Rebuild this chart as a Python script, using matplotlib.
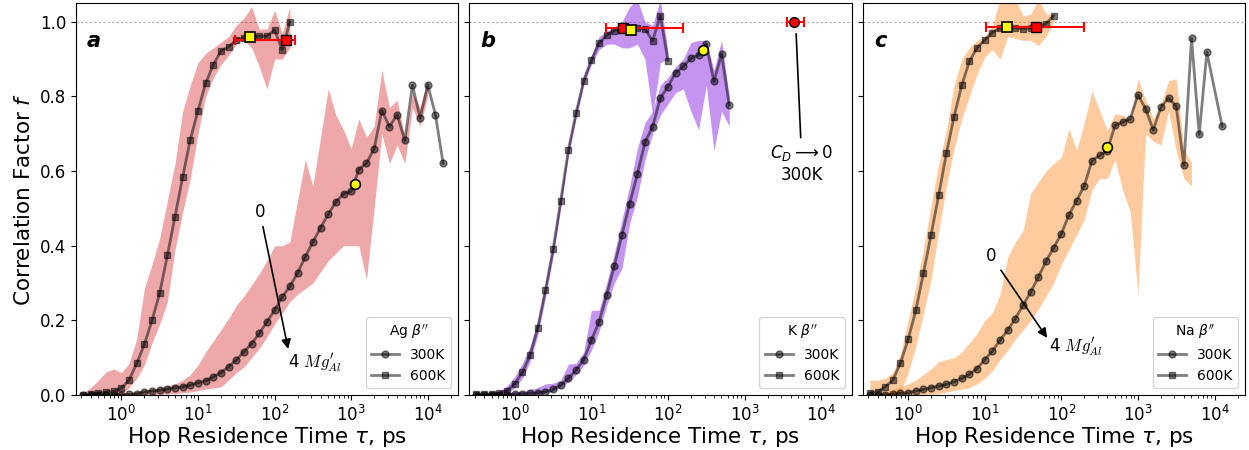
import matplotlib
matplotlib.use("Agg")
import matplotlib.pyplot as plt
import numpy as np

plt.rcParams['font.family'] = ['DejaVu Sans']

# hop residence time bins, ps (shared by every series, first entry = first point)
TAU = [0.316, 0.398, 0.501, 0.631, 0.794, 1.0, 1.259, 1.585, 1.995, 2.512,
       3.162, 3.981, 5.012, 6.310, 7.943, 10.0, 12.59, 15.85, 19.95, 25.12,
       31.62, 39.81, 50.12, 63.10, 79.43, 100.0, 125.9, 158.5, 199.5, 251.2,
       316.2, 398.1, 501.2, 631.0, 794.3, 1000.0, 1259.0, 1585.0, 1995.0, 2512.0,
       3162.0, 3981.0, 5012.0, 6310.0, 7943.0, 10000.0, 12589.0, 15849.0]

# --- Ag beta'' ---
AG_300K = [0.0, 0.0, 0.0, 0.001, 0.001, 0.001, 0.002, 0.004, 0.009, 0.011,
           0.013, 0.016, 0.020, 0.022, 0.027, 0.033, 0.038, 0.049, 0.060, 0.076,
           0.094, 0.116, 0.138, 0.165, 0.196, 0.227, 0.263, 0.291, 0.327, 0.370,
           0.410, 0.448, 0.484, 0.517, 0.539, 0.546, 0.604, 0.621, 0.660, 0.762,
           0.719, 0.751, 0.682, 0.830, 0.742, 0.831, 0.751, 0.621]
AG_300K_LO = [0.0, 0.0, 0.0, 0.0, 0.0, 0.0, 0.0, 0.0, 0.0, 0.0,
              0.001, 0.003, 0.004, 0.006, 0.008, 0.012, 0.016, 0.019, 0.022, 0.040,
              0.060, 0.075, 0.100, 0.125, 0.156, 0.190, 0.220, 0.250, 0.270, 0.285,
              0.300, 0.330, 0.360, 0.380, 0.400, 0.400, 0.400, 0.310, 0.500, 0.700,
              0.620, 0.670, 0.620, 0.770, 0.720, 0.800]
AG_300K_HI = [0.0, 0.0, 0.001, 0.002, 0.003, 0.004, 0.006, 0.008, 0.012, 0.016,
              0.020, 0.025, 0.030, 0.040, 0.055, 0.080, 0.115, 0.145, 0.175, 0.205,
              0.240, 0.265, 0.295, 0.325, 0.360, 0.400, 0.400, 0.410, 0.520, 0.630,
              0.560, 0.690, 0.820, 0.750, 0.710, 0.660, 0.740, 0.690, 0.720, 0.870,
              0.770, 0.790, 0.690, 0.810, 0.770, 0.845]
AG_600K = [0.0, 0.002, 0.005, 0.008, 0.010, 0.019, 0.040, 0.085, 0.136, 0.200,
           0.273, 0.374, 0.478, 0.584, 0.684, 0.762, 0.835, 0.885, 0.921, 0.933,
           0.951, 0.957, 0.960, 0.961, 0.961, 0.978, 0.924, 1.0]
AG_600K_LO = [0.0, 0.0, 0.0, 0.0, 0.0, 0.0, 0.020, 0.045, 0.080, 0.140,
              0.190, 0.250, 0.390, 0.490, 0.580, 0.700, 0.800, 0.850, 0.885, 0.910,
              0.940, 0.950, 0.930, 0.880, 0.820, 0.900, 0.900, 0.930]
AG_600K_HI = [0.005, 0.020, 0.040, 0.062, 0.070, 0.060, 0.085, 0.150, 0.285, 0.350,
              0.420, 0.520, 0.620, 0.760, 0.830, 0.890, 0.915, 0.930, 0.945, 0.960,
              0.990, 1.010, 1.040, 0.980, 0.980, 1.030, 0.970, 1.040]

# --- K beta'' ---
K_300K = [0.0, 0.0, 0.0, 0.0, 0.001, 0.003, 0.003, 0.005, 0.006, 0.009,
          0.015, 0.027, 0.045, 0.067, 0.095, 0.147, 0.196, 0.269, 0.346, 0.430,
          0.513, 0.591, 0.677, 0.719, 0.795, 0.826, 0.863, 0.880, 0.902, 0.911,
          0.940, 0.840, 0.913, 0.777]
K_300K_LO = [0.0, 0.0, 0.0, 0.0, 0.0, 0.0, 0.0, 0.0, 0.002, 0.005,
             0.010, 0.020, 0.035, 0.055, 0.080, 0.120, 0.170, 0.240, 0.300, 0.340,
             0.460, 0.530, 0.630, 0.700, 0.750, 0.780, 0.810, 0.820, 0.760, 0.710,
             0.830, 0.655, 0.760, 0.720]
K_300K_HI = [0.003, 0.003, 0.004, 0.005, 0.006, 0.008, 0.010, 0.015, 0.020, 0.030,
             0.032, 0.040, 0.083, 0.085, 0.115, 0.227, 0.227, 0.300, 0.380, 0.470,
             0.560, 0.660, 0.730, 0.760, 0.830, 0.850, 0.880, 0.900, 0.944, 0.950,
             0.950, 0.870, 0.950, 0.800]
K_600K = [0.003, 0.003, 0.003, 0.005, 0.012, 0.031, 0.061, 0.107, 0.180, 0.281,
          0.390, 0.520, 0.657, 0.755, 0.842, 0.897, 0.942, 0.964, 0.976, 0.982,
          0.981, 0.983, 0.980, 0.949, 1.016, 0.896]
K_600K_LO = [0.0, 0.0, 0.0, 0.0, 0.005, 0.020, 0.045, 0.090, 0.160, 0.260,
             0.370, 0.500, 0.640, 0.740, 0.830, 0.885, 0.925, 0.940, 0.940, 0.930,
             0.930, 0.940, 0.900, 0.750, 0.890, 0.900]
K_600K_HI = [0.005, 0.005, 0.006, 0.010, 0.025, 0.050, 0.085, 0.130, 0.200, 0.300,
             0.410, 0.540, 0.670, 0.770, 0.855, 0.910, 0.960, 0.975, 0.985, 1.000,
             1.040, 1.060, 1.000, 0.990, 1.060, 0.920]

# --- Na beta'' ---
NA_300K = [0.0, 0.0, 0.001, 0.003, 0.005, 0.006, 0.011, 0.015, 0.020, 0.024,
           0.029, 0.036, 0.045, 0.056, 0.071, 0.095, 0.118, 0.147, 0.174, 0.205,
           0.241, 0.276, 0.316, 0.358, 0.395, 0.432, 0.483, 0.521, 0.561, 0.628,
           0.642, 0.655, 0.722, 0.731, 0.740, 0.804, 0.767, 0.710, 0.771, 0.796,
           0.773, 0.615, 0.955, 0.698, 0.918, None, 0.720]
NA_300K_LO = [0.0, 0.0, 0.0, 0.0, 0.0, 0.0, 0.0, 0.0, 0.002, 0.004,
              0.008, 0.012, 0.016, 0.020, 0.030, 0.045, 0.065, 0.095, 0.120, 0.150,
              0.174, 0.200, 0.230, 0.265, 0.300, 0.350, 0.390, 0.430, 0.470, 0.550,
              0.580, 0.580, 0.630, 0.550, 0.490, 0.270, 0.700, 0.680, 0.670, 0.760,
              0.655, 0.580, 0.560]
NA_300K_HI = [0.0, 0.002, 0.008, 0.015, 0.022, 0.030, 0.040, 0.055, 0.070, 0.090,
              0.095, 0.100, 0.115, 0.140, 0.165, 0.200, 0.220, 0.270, 0.370, 0.410,
              0.440, 0.540, 0.570, 0.600, 0.620, 0.637, 0.713, 0.655, 0.730, 0.815,
              0.762, 0.709, 0.753, 0.750, 0.740, 0.847, 0.790, 0.740, 0.780, 0.842,
              0.847, 0.660, 0.620]
NA_600K = [0.006, 0.009, 0.022, 0.040, 0.086, 0.149, 0.227, 0.327, 0.430, 0.537,
           0.648, 0.746, 0.830, 0.894, 0.930, 0.951, 0.971, 0.983, 0.985, 0.983,
           0.981, 0.983, 0.985, 0.995, 1.016]
NA_600K_LO = [0.0, 0.0, 0.0, 0.0, 0.005, 0.060, 0.130, 0.220, 0.310, 0.440,
              0.560, 0.660, 0.740, 0.800, 0.860, 0.905, 0.925, 0.900, 0.960, 0.955,
              0.950, 0.950, 0.936, 0.960, 1.000]
NA_600K_HI = [0.040, 0.040, 0.045, 0.060, 0.110, 0.200, 0.290, 0.390, 0.510, 0.620,
              0.710, 0.830, 0.900, 0.930, 0.950, 0.960, 0.990, 1.060, 1.060, 1.060,
              1.016, 1.020, 1.060, 1.020, 1.020]

# highlighted points, one per panel (a, b, c)
YELLOW_SQ_TAU = [47.4, 32.6, 19.7]
YELLOW_SQ_F = [0.960, 0.979, 0.987]
YELLOW_CI_TAU = [1125.0, 284.0, 400.0]
YELLOW_CI_F = [0.564, 0.925, 0.664]
RED_SQ_TAU = [143.0, 25.7, 47.0]
RED_SQ_F = [0.952, 0.984, 0.987]
RED_SQ_TAU_LO = [30.5, 15.4, 10.5]
RED_SQ_TAU_HI = [187.0, 156.0, 200.0]
# panel b: dilute-limit point at 300K
RED_CI_TAU = 4380.0
RED_CI_F = 1.0
RED_CI_TAU_LO = 3550.0
RED_CI_TAU_HI = 5900.0

PANELS = [
    dict(tag='a', ion='Ag', color='tab:red', alpha=0.4,
         s300=(AG_300K, AG_300K_LO, AG_300K_HI), s600=(AG_600K, AG_600K_LO, AG_600K_HI)),
    dict(tag='b', ion='K', color='#8a2be2', alpha=0.5,
         s300=(K_300K, K_300K_LO, K_300K_HI), s600=(K_600K, K_600K_LO, K_600K_HI)),
    dict(tag='c', ion='Na', color='tab:orange', alpha=0.4,
         s300=(NA_300K, NA_300K_LO, NA_300K_HI), s600=(NA_600K, NA_600K_LO, NA_600K_HI)),
]

fig, axes = plt.subplots(1, 3, figsize=(12.49, 4.5), dpi=100, sharey=True)
fig.subplots_adjust(left=0.0608, right=0.9968, bottom=0.122, top=0.9933, wspace=0.029)

tau = np.array(TAU)

for i, (ax, p) in enumerate(zip(axes, PANELS)):
    # shaded spread first
    for f, lo, hi in (p['s300'], p['s600']):
        n = len(lo)
        ax.fill_between(tau[:n], lo, hi, color=p['color'], alpha=p['alpha'],
                        lw=0, zorder=1)
    for (f, lo, hi), mk, lab in ((p['s300'], 'o', '300K'), (p['s600'], 's', '600K')):
        y = np.array(f, dtype=float)
        x = tau[:len(y)]
        m = np.isfinite(y)
        ax.plot(x[m], y[m], marker=mk, color='k', alpha=0.5, lw=2, ms=5,
                label=lab, zorder=3)

    ax.axhline(1.0, color='#aaaaaa', ls=(0, (2, 2)), lw=0.8, zorder=0)

    xs = RED_SQ_TAU[i]
    ax.errorbar([xs], [RED_SQ_F[i]],
                xerr=[[xs - RED_SQ_TAU_LO[i]], [RED_SQ_TAU_HI[i] - xs]],
                fmt='s', color='red', mfc='red', mec='k', ms=7, capsize=3.5,
                elinewidth=1.5, capthick=1.5, zorder=5)
    ax.plot([YELLOW_SQ_TAU[i]], [YELLOW_SQ_F[i]], 's', mfc='yellow', mec='k',
            ms=7, mew=1.2, zorder=6)
    ax.plot([YELLOW_CI_TAU[i]], [YELLOW_CI_F[i]], 'o', mfc='yellow', mec='k',
            ms=7, mew=1.2, zorder=6)

    ax.set_xscale('log')
    ax.set_xlim(0.255, 2.5e4)
    ax.set_ylim(0.0, 1.05)
    ax.set_xlabel(r'Hop Residence Time $\tau$, ps', fontsize=15.5, labelpad=0)
    ax.tick_params(labelsize=12)
    ax.text(0.029, 0.889, p['tag'], transform=ax.transAxes, fontsize=15,
            fontweight='bold', fontstyle='italic', va='baseline')
    ax.legend(title=p['ion'] + r" $\beta''$", loc='lower right', fontsize=10,
              title_fontsize=10)

axes[0].set_ylabel(r'Correlation Factor $f$', fontsize=15.5)
axes[0].set_yticks([0.0, 0.2, 0.4, 0.6, 0.8, 1.0])

# Mg doping arrows
arrow = dict(arrowstyle='-|>', color='k', lw=1.2, mutation_scale=14)
axes[0].annotate('0', xy=(153, 0.116), xytext=(64.4, 0.49), fontsize=12,
                 ha='center', va='center', arrowprops=arrow)
axes[0].text(149, 0.085, r"4 $Mg_{Al}^{\prime}$", fontsize=12, ha='left',
             va='center', math_fontfamily='cm')
axes[2].annotate('0', xy=(68.4, 0.147), xytext=(12.2, 0.372), fontsize=12,
                 ha='center', va='center', arrowprops=arrow)
axes[2].text(69.7, 0.129, r"4 $Mg_{Al}^{\prime}$", fontsize=12, ha='left',
             va='center', math_fontfamily='cm')

# dilute limit marker in panel b
axes[1].errorbar([RED_CI_TAU], [RED_CI_F],
                 xerr=[[RED_CI_TAU - RED_CI_TAU_LO], [RED_CI_TAU_HI - RED_CI_TAU]],
                 fmt='o', color='red', mfc='red', mec='k', ms=7, capsize=3.5,
                 elinewidth=1.5, capthick=1.5, zorder=5)
axes[1].annotate('$C_D \\longrightarrow 0$\n300K', xy=(4700, 0.975),
                 xytext=(5600, 0.62), fontsize=12, ha='center', va='center',
                 arrowprops=dict(arrowstyle='-', color='k', lw=1.2))

fig.savefig('out.png', dpi=100)
